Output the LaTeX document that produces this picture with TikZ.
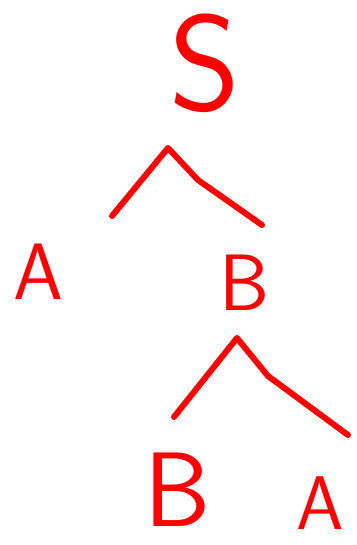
\documentclass[tikz,border=0pt]{standalone}
\usepackage{tikz}
\tikzset{
  sym/.style={text=red, inner sep=0pt, font=\sffamily},
  branch/.style={draw=red, line width=3pt, line cap=round, line join=round}
}
\begin{document}
\begin{tikzpicture}[x=0.5pt, y=-0.5pt]
  \useasboundingbox (0,0) rectangle (357,545);
  % letters
  \node[sym, font=\sffamily\fontsize{68}{68}\selectfont] (S) at (205,63) {S};
  \node[sym, font=\sffamily\fontsize{40}{40}\selectfont] (A1) at (38,272) {A};
  \node[sym, font=\sffamily\fontsize{40}{40}\selectfont] (B1) at (245,283) {B};
  \node[sym, font=\sffamily\fontsize{53}{53}\selectfont] (B2) at (178,490) {B};
  \node[sym, font=\sffamily\fontsize{38}{38}\selectfont] (A2) at (320,503) {A};
  % branch points
  \coordinate (S-top) at (168,148);
  \coordinate (S-left) at (112,216);
  \coordinate (S-bend) at (198,180);
  \coordinate (S-right) at (262,225);
  \coordinate (B1-top) at (237,338);
  \coordinate (B1-left) at (174,417);
  \coordinate (B1-bend) at (268,376);
  \coordinate (B1-right) at (348,435);
  \draw[branch] (S-left) -- (S-top) -- (S-bend) -- (S-right);
  \draw[branch] (B1-left) -- (B1-top) -- (B1-bend) -- (B1-right);
\end{tikzpicture}
\end{document}
